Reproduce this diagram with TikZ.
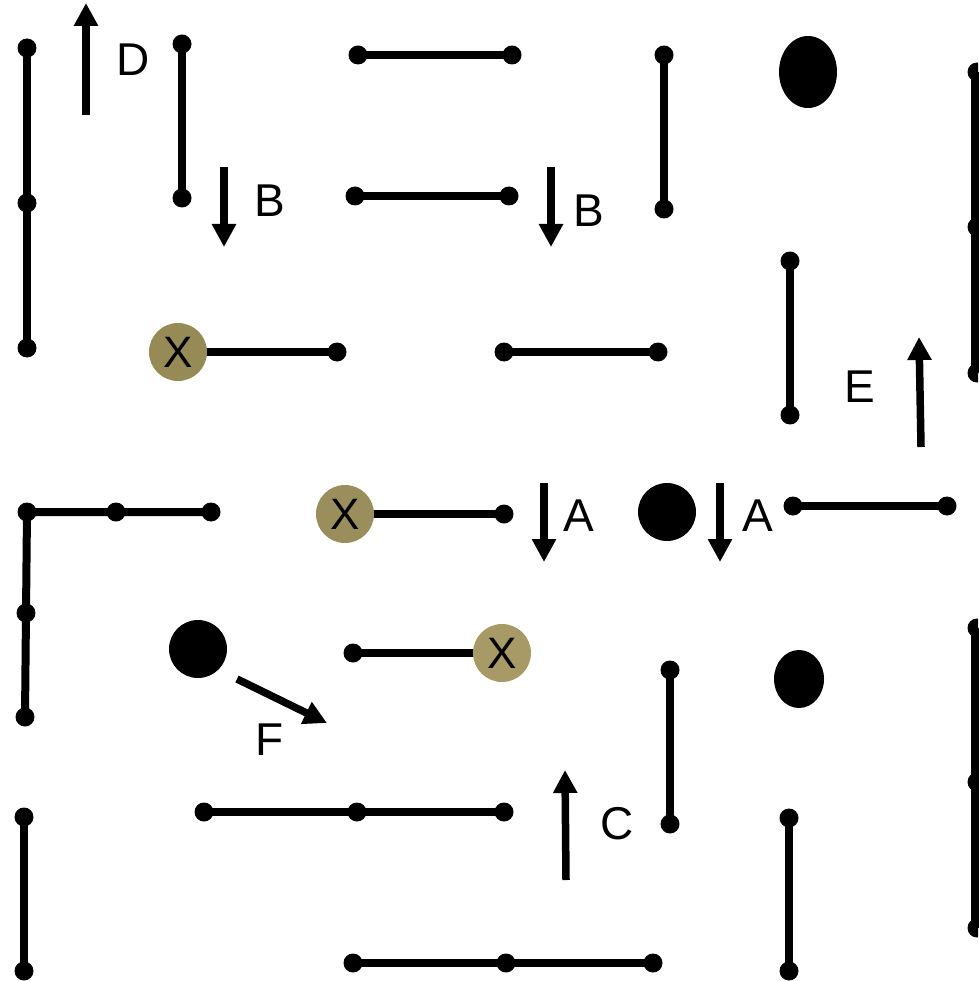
\documentclass[tikz,border=0pt]{standalone}
\usepackage{fontspec}
\setmainfont{Liberation Sans}
\usetikzlibrary{arrows.meta,shapes.geometric}
\definecolor{oliveA}{RGB}{150,139,86}
\definecolor{oliveB}{RGB}{154,143,92}
\definecolor{oliveC}{RGB}{168,154,102}
\pgfdeclarelayer{bg}
\pgfsetlayers{bg,main}
\tikzset{
  dot/.style={circle,fill=black,inner sep=0pt,minimum size=19pt},
  seg/.style={line width=8pt},
  arr/.style={line width=7.5pt,-{Triangle[width=23pt,length=23pt]}},
  lbl/.style={inner sep=0pt,font=\fontsize{46}{50}\selectfont},
  xnode/.style={circle,inner sep=0pt,minimum size=58pt,font=\fontsize{44}{48}\selectfont},
  ball/.style={circle,fill=black,inner sep=0pt,minimum size=58pt},
  egg/.style={ellipse,fill=black,inner sep=0pt}
}
\begin{document}
\begin{tikzpicture}[x=1pt,y=-1pt]
\useasboundingbox (0,0) rectangle (978,981);
\clip (0,0) rectangle (978,981);
% ---------- nodes ----------
\node[dot] (a1) at (27,48) {};
\node[dot] (a2) at (27,203) {};
\node[dot] (a3) at (27,348) {};
\coordinate (d0) at (86,115);
\coordinate (d1) at (86,3);
\node[lbl] (dl) at (133,60) {D};
\node[dot] (b1) at (182,44) {};
\node[dot] (b2) at (182,198) {};
\coordinate (bb0) at (224,167);
\coordinate (bb1) at (224,247);
\node[lbl] (bl1) at (270,201) {B};
\node[dot] (c1) at (358,55) {};
\node[dot] (c2) at (512,55) {};
\node[dot] (e1) at (355,196) {};
\node[dot] (e2) at (509,196) {};
\coordinate (bc0) at (551,167);
\coordinate (bc1) at (551,247);
\node[lbl] (bl2) at (589,211) {B};
\node[dot] (f1) at (664,55) {};
\node[dot] (f2) at (664,209) {};
\node[egg,minimum width=58pt,minimum height=72pt] (g1) at (808,72) {};
\node[dot] (h1) at (977,72) {};
\node[dot] (h2) at (977,227) {};
\node[dot] (h3) at (977,373) {};
\node[dot] (i1) at (790,261) {};
\node[dot] (i2) at (790,415) {};
\coordinate (ee0) at (921,447);
\coordinate (ee1) at (919,337);
\node[lbl] (el) at (860,387) {E};
\node[xnode,fill=oliveA] (x1) at (178,352) {X};
\node[dot] (j2) at (337,352) {};
\node[dot] (k1) at (504,352) {};
\node[dot] (k2) at (658,352) {};
\node[dot] (l1) at (27,512) {};
\node[dot] (l2) at (116,512) {};
\node[dot] (l3) at (211,512) {};
\node[dot] (l4) at (26,613) {};
\node[dot] (l5) at (25,717) {};
\node[xnode,fill=oliveB] (x2) at (345,514) {X};
\node[dot] (m2) at (504,514) {};
\coordinate (aa0) at (544,483);
\coordinate (aa1) at (544,562);
\node[lbl] (al1) at (579,516) {A};
\node[ball] (n1) at (667,512) {};
\coordinate (ab0) at (720,483);
\coordinate (ab1) at (720,562);
\node[lbl] (al2) at (758,516) {A};
\node[dot] (o1) at (793,506) {};
\node[dot] (o2) at (947,506) {};
\node[ball] (p1) at (198,649) {};
\coordinate (ff0) at (237,679);
\coordinate (ff1) at (327,723);
\node[lbl] (fl) at (270,740) {F};
\node[dot] (q1) at (353,653) {};
\node[xnode,fill=oliveC] (x3) at (502,653) {X};
\node[egg,minimum width=50pt,minimum height=58pt] (g2) at (799,679) {};
\node[dot] (r1) at (670,670) {};
\node[dot] (r2) at (670,824) {};
\node[dot] (s1) at (977,628) {};
\node[dot] (s2) at (977,782) {};
\node[dot] (s3) at (977,928) {};
\node[dot] (t1) at (204,812) {};
\node[dot] (t2) at (357,812) {};
\node[dot] (t3) at (504,812) {};
\coordinate (cc0) at (566,880);
\coordinate (cc1) at (565,770);
\node[lbl] (cl) at (617,824) {C};
\node[dot] (u1) at (24,817) {};
\node[dot] (u2) at (24,971) {};
\node[dot] (v1) at (789,818) {};
\node[dot] (v2) at (789,971) {};
\node[dot] (w1) at (353,963) {};
\node[dot] (w2) at (506,963) {};
\node[dot] (w3) at (653,963) {};
% ---------- connectors (behind nodes) ----------
\begin{pgfonlayer}{bg}
\draw[seg] (a1.center) -- (a2.center) -- (a3.center);
\draw[seg] (b1.center) -- (b2.center);
\draw[seg] (c1.center) -- (c2.center);
\draw[seg] (e1.center) -- (e2.center);
\draw[seg] (f1.center) -- (f2.center);
\draw[seg] ([xshift=-2pt]h1.center) -- ([xshift=-2pt]h2.center) -- ([xshift=-2pt]h3.center);
\draw[seg] (i1.center) -- (i2.center);
\draw[seg] (x1.center) -- (j2.center);
\draw[seg] (k1.center) -- (k2.center);
\draw[seg] (l3.center) -- (l2.center) -- (l1.center) -- (l4.center) -- (l5.center);
\draw[seg] (x2.center) -- (m2.center);
\draw[seg] (o1.center) -- (o2.center);
\draw[seg] (q1.center) -- (x3.center);
\draw[seg] (r1.center) -- (r2.center);
\draw[seg] ([xshift=-2pt]s1.center) -- ([xshift=-2pt]s2.center) -- ([xshift=-2pt]s3.center);
\draw[seg] (t1.center) -- (t2.center) -- (t3.center);
\draw[seg] (u1.center) -- (u2.center);
\draw[seg] (v1.center) -- (v2.center);
\draw[seg] (w1.center) -- (w2.center) -- (w3.center);
\end{pgfonlayer}
% ---------- arrows ----------
\draw[arr] (d0) -- (d1);
\draw[arr] (bb0) -- (bb1);
\draw[arr] (bc0) -- (bc1);
\draw[arr] (ee0) -- (ee1);
\draw[arr] (aa0) -- (aa1);
\draw[arr] (ab0) -- (ab1);
\draw[arr] (ff0) -- (ff1);
\draw[arr] (cc0) -- (cc1);
\end{tikzpicture}
\end{document}
